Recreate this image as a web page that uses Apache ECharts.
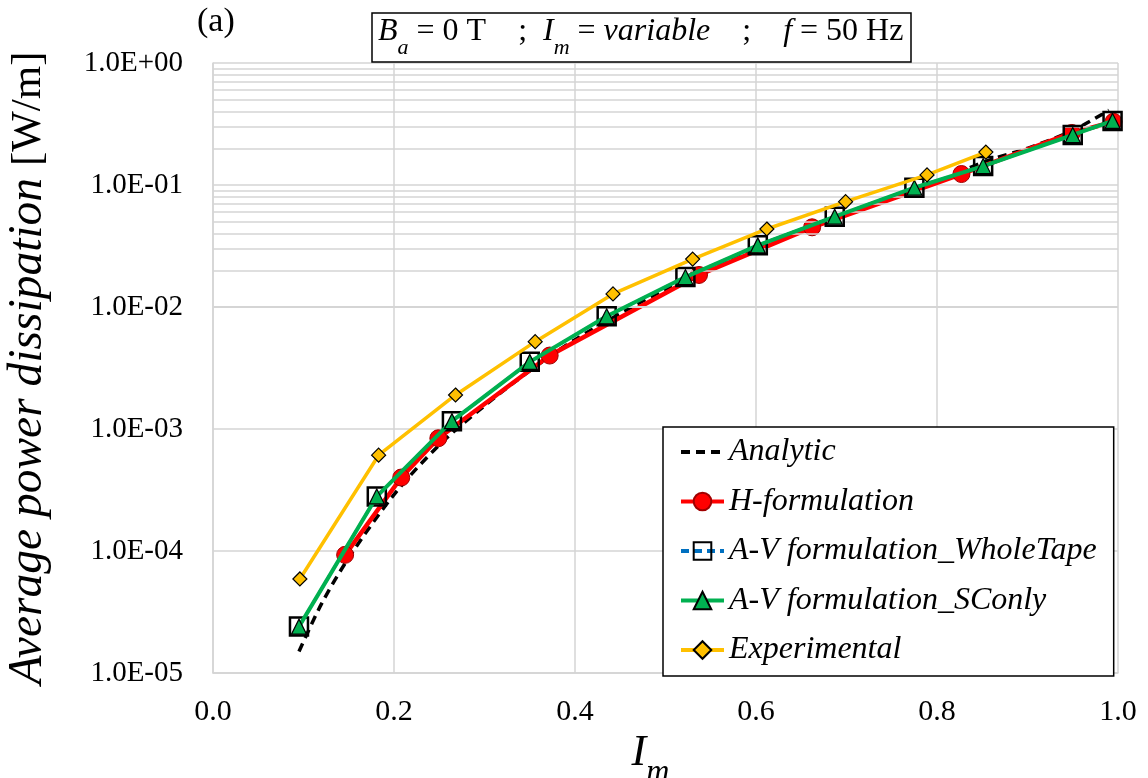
<!DOCTYPE html>
<html>
<head>
<meta charset="utf-8">
<script src="https://cdn.jsdelivr.net/npm/echarts@6/dist/echarts.min.js"></script>
<style>
  html, body { margin: 0; padding: 0; background: #fff; }
  #chart { width: 1148px; height: 778px; }
</style>
</head>
<body>
<div id="chart"></div>
<script>
// 数据
const xAnalytic = [0.095, 0.12, 0.15, 0.2, 0.25, 0.3, 0.35, 0.4, 0.5, 0.6, 0.7, 0.8, 0.85, 0.9, 0.95, 0.99];
const yAnalytic = [1.5e-5, 3.7e-5, 8.8e-5, 2.9e-4, 7.4e-4, 1.55e-3, 3.0e-3, 5.4e-3, 1.4e-2, 3.1e-2, 5.9e-2, 0.105, 0.153, 0.2, 0.28, 0.41];

const xH = [0.146, 0.208, 0.249, 0.372, 0.537, 0.662, 0.827, 0.949, 0.995];
const yH = [9.3e-5, 4.0e-4, 8.4e-4, 4.0e-3, 1.83e-2, 4.5e-2, 0.123, 0.267, 0.33];

const xWhole = [0.095, 0.181, 0.264, 0.350, 0.435, 0.522, 0.602, 0.687, 0.775, 0.851, 0.950, 0.994];
const yWhole = [2.4e-5, 2.8e-4, 1.16e-3, 3.55e-3, 8.4e-3, 1.76e-2, 3.2e-2, 5.5e-2, 9.5e-2, 0.143, 0.257, 0.335];

const xSC = [0.095, 0.181, 0.264, 0.350, 0.435, 0.522, 0.602, 0.687, 0.775, 0.851, 0.950, 0.994];
const ySC = [2.4e-5, 2.8e-4, 1.16e-3, 3.55e-3, 8.4e-3, 1.76e-2, 3.2e-2, 5.5e-2, 9.5e-2, 0.143, 0.257, 0.335];

const xExp = [0.096, 0.183, 0.268, 0.356, 0.442, 0.530, 0.612, 0.699, 0.789, 0.854];
const yExp = [5.9e-5, 6.1e-4, 1.9e-3, 5.2e-3, 1.28e-2, 2.47e-2, 4.36e-2, 7.3e-2, 0.121, 0.186];

// 对数轴次网格线 2..9 x 10^n
const minorDecades = [-5, -4, -3, -2, -1];
const minorMult = [2, 3, 4, 5, 6, 7, 8, 9];

const pair = (xs, ys) => xs.map((x, i) => [x, ys[i]]);
const FONT = 'Liberation Serif';
const gridColor = '#d4d4d4';

const minorLines = [];
minorDecades.forEach(d => {
  minorMult.forEach(m => {
    minorLines.push({ yAxis: m * Math.pow(10, d) });
  });
});

const chart = echarts.init(document.getElementById('chart'));

const option = {
  backgroundColor: '#fff',
  animation: false,
  title: {
    left: 372,
    top: 12,
    padding: [3, 8, 3, 6],
    borderColor: '#000',
    borderWidth: 1.5,
    text: '{i|B}{s|a}{n| = 0 T    ;  }{i|I}{s|m}{n| = }{i|variable}{n|    ;    }{i|f}{n| = 50 Hz}',
    textStyle: {
      fontWeight: 'normal',
      rich: {
        i: { fontFamily: FONT, fontStyle: 'italic', fontWeight: 'normal', fontSize: 32, color: '#000', lineHeight: 34 },
        n: { fontFamily: FONT, fontWeight: 'normal', fontSize: 32, color: '#000', lineHeight: 34 },
        s: { fontFamily: FONT, fontStyle: 'italic', fontWeight: 'normal', fontSize: 22, color: '#000', lineHeight: 34, verticalAlign: 'bottom', padding: [0, 0, -10, 0] }
      }
    }
  },
  graphic: [{
    type: 'text',
    left: 197,
    top: 5,
    style: { text: '(a)', font: '34px "Liberation Serif"', fill: '#000' }
  }],
  legend: {
    orient: 'vertical',
    left: 663,
    top: 427,
    padding: [9, 17, 10, 16],
    itemGap: 17.5,
    itemWidth: 43,
    itemHeight: 22,
    backgroundColor: '#fff',
    borderColor: '#000',
    borderWidth: 1.5,
    borderRadius: 0,
    lineStyle: { width: 4 },
    data: [
      { name: 'Analytic', itemStyle: { opacity: 0 } },
      'H-formulation',
      'A-V formulation_WholeTape',
      'A-V formulation_SConly',
      'Experimental'
    ],
    textStyle: { fontFamily: FONT, fontStyle: 'italic', fontSize: 32, color: '#000', lineHeight: 32 }
  },
  grid: { left: 213, right: 30, top: 63, bottom: 105, outerBoundsMode: 'none' },
  xAxis: {
    type: 'value',
    min: 0,
    max: 1,
    interval: 0.2,
    name: '{i|I}{s|m}',
    nameLocation: 'middle',
    nameGap: 41,
    nameTextStyle: {
      padding: [0, 30, 0, 0],
      rich: {
        i: { fontFamily: FONT, fontStyle: 'italic', fontSize: 44, color: '#000', lineHeight: 46 },
        s: { fontFamily: FONT, fontStyle: 'italic', fontSize: 32, color: '#000', lineHeight: 46, verticalAlign: 'bottom', padding: [0, 0, -12, 0] }
      }
    },
    axisLine: { show: true, lineStyle: { color: gridColor, width: 1.5 } },
    axisTick: { show: false },
    axisLabel: {
      margin: 24,
      fontFamily: FONT,
      fontSize: 30,
      color: '#000',
      formatter: v => v.toFixed(1)
    },
    splitLine: { show: true, lineStyle: { color: gridColor, width: 1.5 } }
  },
  yAxis: {
    type: 'log',
    logBase: 10,
    min: 1e-5,
    max: 1,
    name: '{i|Average power dissipation }{n|[W/m]}',
    nameLocation: 'middle',
    nameRotate: 90,
    nameGap: 160,
    nameTextStyle: {
      rich: {
        i: { fontFamily: FONT, fontStyle: 'italic', fontSize: 47.5, color: '#000' },
        n: { fontFamily: FONT, fontSize: 43, color: '#000' }
      }
    },
    axisLine: { show: true, lineStyle: { color: gridColor, width: 1.5 } },
    axisTick: { show: false },
    axisLabel: {
      margin: 30,
      fontFamily: FONT,
      fontSize: 29,
      color: '#000',
      formatter: v => {
        const e = Math.round(Math.log10(v));
        const s = e < 0 ? '-' : '+';
        const a = Math.abs(e);
        return '1.0E' + s + (a < 10 ? '0' : '') + a;
      }
    },
    splitLine: { show: true, lineStyle: { color: gridColor, width: 1.5 } }
  },
  series: [
    {
      name: '_minor',
      type: 'line',
      data: [],
      z: 1,
      silent: true,
      markLine: {
        silent: true,
        symbol: ['none', 'none'],
        label: { show: false },
        lineStyle: { color: gridColor, width: 1.5, type: 'solid' },
        emphasis: { disabled: true },
        data: minorLines
      }
    },
    {
      name: 'Analytic',
      type: 'line',
      data: pair(xAnalytic, yAnalytic),
      symbol: 'none',
      smooth: 0.3,
      z: 3,
      lineStyle: { color: '#000', width: 3.5, type: [9, 6] },
      itemStyle: { color: '#000' }
    },
    {
      name: 'H-formulation',
      type: 'line',
      data: pair(xH, yH),
      symbol: 'circle',
      symbolSize: 17,
      z: 4,
      lineStyle: { color: '#ff0000', width: 4.5 },
      itemStyle: { color: '#ff0000', borderColor: '#a00000', borderWidth: 1 }
    },
    {
      name: 'A-V formulation_WholeTape',
      type: 'line',
      data: pair(xWhole, yWhole),
      symbol: 'rect',
      symbolSize: 18,
      z: 5,
      lineStyle: { color: '#0070c0', width: 3, type: [8, 5] },
      itemStyle: { color: 'rgba(255,255,255,0)', borderColor: '#000', borderWidth: 2.5 }
    },
    {
      name: 'A-V formulation_SConly',
      type: 'line',
      data: pair(xSC, ySC),
      symbol: 'triangle',
      symbolSize: 15,
      z: 6,
      lineStyle: { color: '#00b050', width: 4 },
      itemStyle: { color: '#00b050', borderColor: '#000', borderWidth: 1.2 }
    },
    {
      name: 'Experimental',
      type: 'line',
      data: pair(xExp, yExp),
      symbol: 'diamond',
      symbolSize: [14, 14],
      z: 7,
      lineStyle: { color: '#ffc000', width: 3.5 },
      itemStyle: { color: '#ffc000', borderColor: '#000', borderWidth: 1.2 }
    }
  ]
};

chart.setOption(option);
</script>
</body>
</html>
